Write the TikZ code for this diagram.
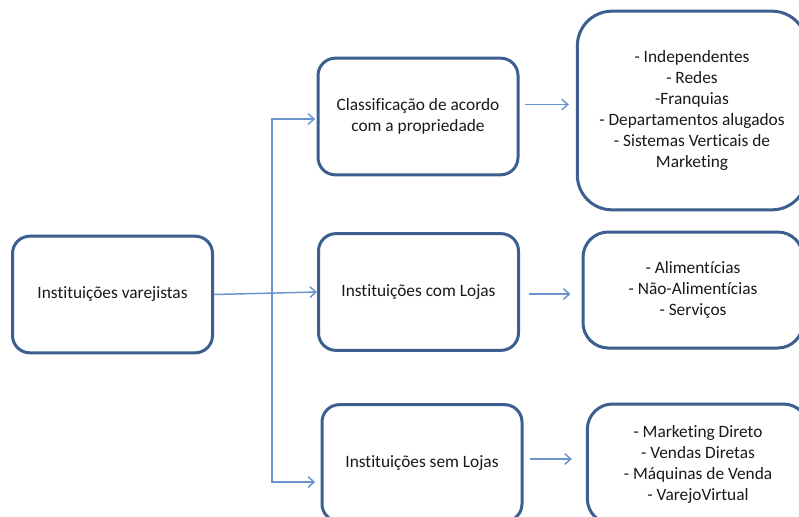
\documentclass[tikz,border=0pt]{standalone}
\usepackage{fontspec}
\setmainfont[Ligatures=NoCommon]{Carlito}
\usepackage{tikz}
\usetikzlibrary{positioning}
\usetikzlibrary{arrows.meta}
\usetikzlibrary{calc}
\definecolor{boxblue}{HTML}{3C5F90}
\definecolor{lineblue}{HTML}{6A93CB}
\tikzset{>={Straight Barb[length=4.5pt,width=8pt]}}
\tikzstyle{retbox}=[draw=boxblue,line width=2.25pt,shape=rectangle,rounded corners=13pt,fill=white,align=center,text=black!90,font=\fontsize{13pt}{15.75pt}\selectfont,minimum width=150pt,minimum height=87.5pt]
\tikzstyle{listbox}=[retbox,rounded corners=19pt]
\tikzstyle{conn}=[->,line width=1.1pt,color=lineblue]

\begin{document}
\begin{tikzpicture}[x=0.75pt,y=-0.75pt]
	\clip (0,0) rectangle (799,517);
	
	% Main column
	\node[retbox] (varejo) at (112.5, 294.5) {Instituições varejistas};
	\node[retbox] (class) at (418, 116.5) {Classificação de acordo\\com a propriedade};
	\node[retbox] (com) at (418.5, 292) {Instituições com Lojas};
	\node[retbox] (sem) at (422, 463) {Instituições sem Lojas};
	
	% Lists
	\node[listbox, rounded corners=26pt, minimum width=172pt, minimum height=149pt] (propr) at (692, 110.5) {- Independentes\\- Redes\\-Franquias\\- Departamentos alugados\\- Sistemas Verticais de\\Marketing};
	\node[listbox, minimum width=165pt, minimum height=87pt] (comlist) at (693, 290) {- Alimentícias\\- Não-Alimentícias\\- Serviços};
	\node[listbox, minimum width=166pt, minimum height=90pt] (semlist) at (698, 464) {- Marketing Direto\\- Vendas Diretas\\- Máquinas de Venda\\- VarejoVirtual};
	
	% Trunk
	\coordinate (trunktop) at (272, 119);
	\coordinate (trunkbot) at (272, 482);
	\draw[conn,<->,shorten <=1pt,shorten >=4pt] (class.west |- trunktop) -- (trunktop) -- (trunkbot) -- (sem.west |- trunkbot);
	\draw[conn] (varejo.east) -- (com.west);
	
	% Arrows to lists
	\draw[conn] ([shift={(5,-12)}]class.east) -- ([shift={(-7,-12)}]class.east -| propr.west);
	\draw[conn] ([shift={(9,2)}]com.east) -- ([shift={(-11,2)}]com.east -| comlist.west);
	\draw[conn] ([shift={(6,-4)}]sem.east) -- ([shift={(-14,-4)}]sem.east -| semlist.west);
	
\end{tikzpicture}
\end{document}
